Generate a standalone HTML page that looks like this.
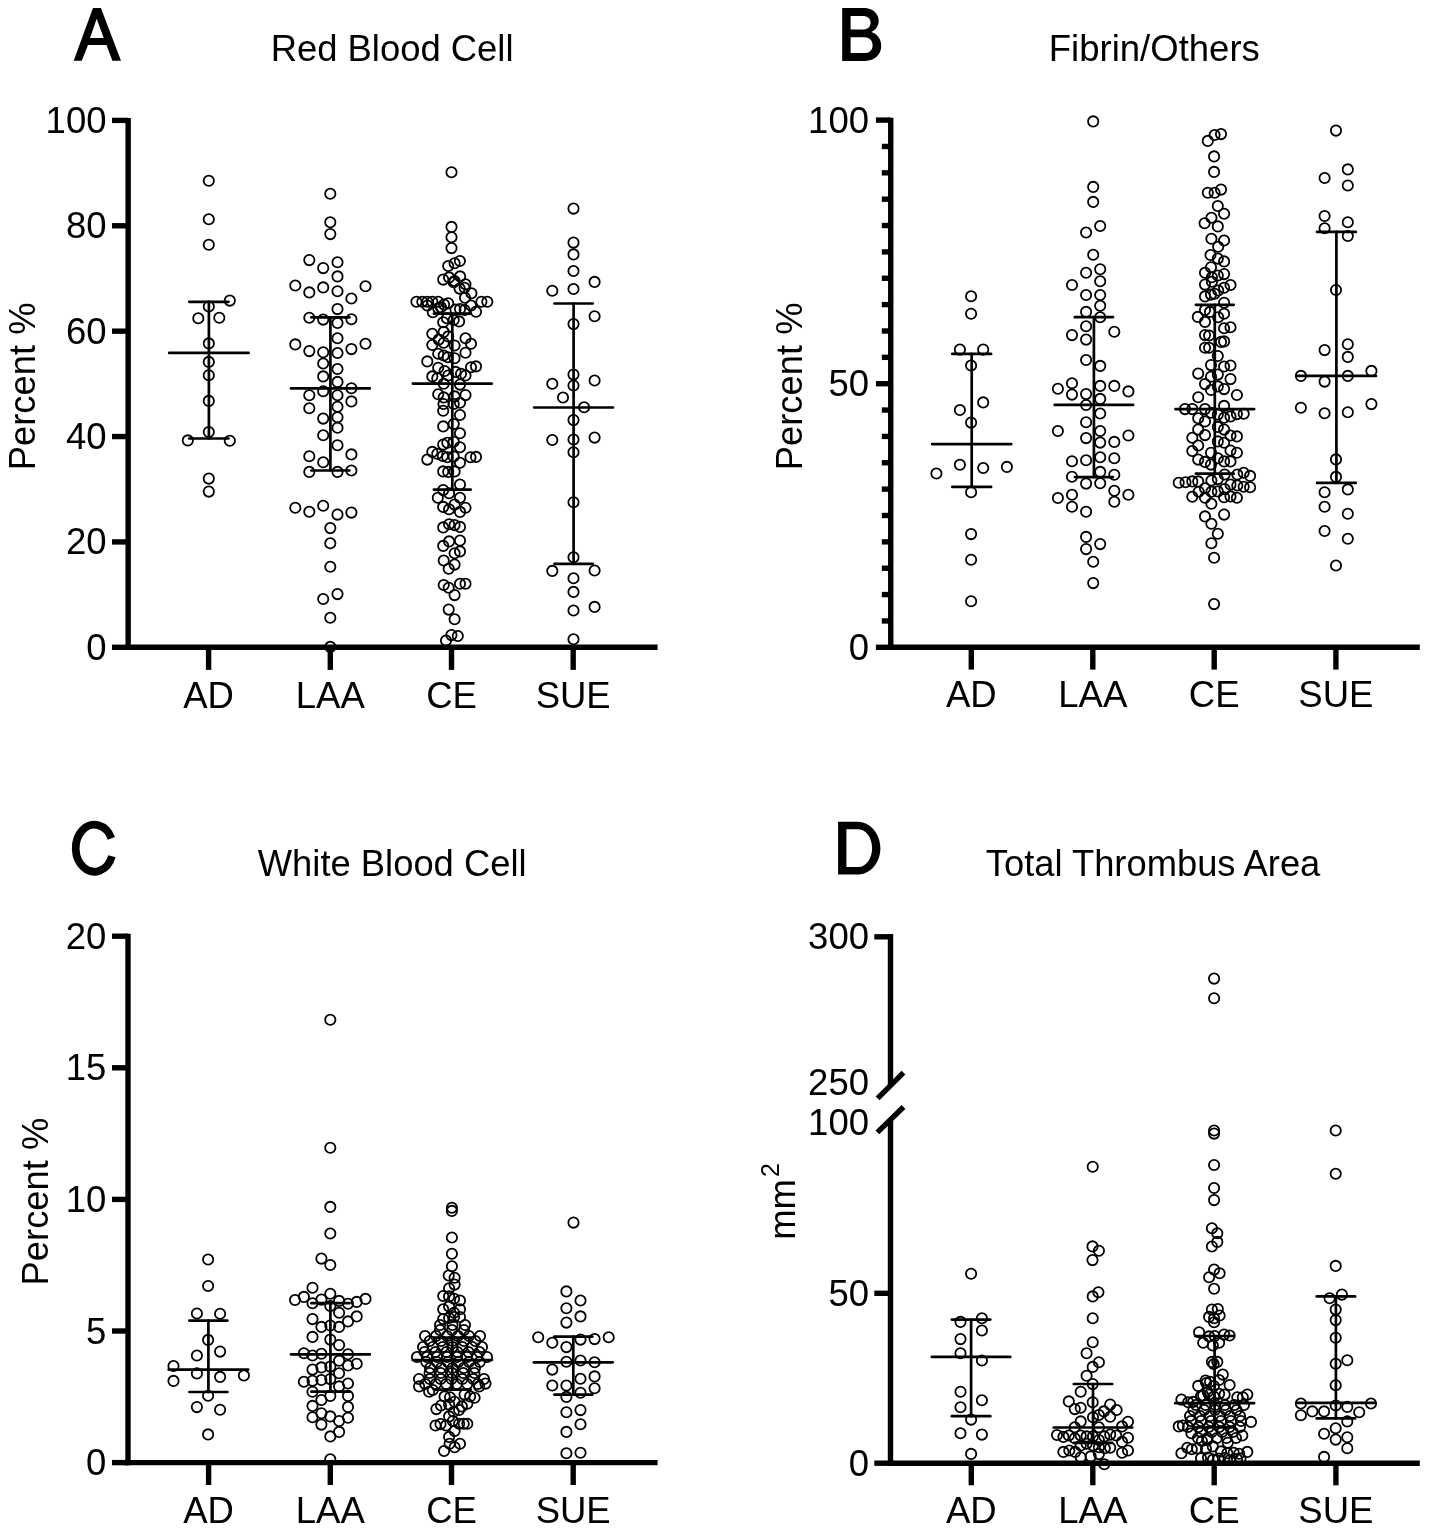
<!DOCTYPE html>
<html><head><meta charset="utf-8"><style>
html,body{margin:0;padding:0;background:#fff;}
svg{display:block;filter:grayscale(1);}
text{font-family:"Liberation Sans",sans-serif;fill:#000;}
line{stroke:#000;}
circle{fill:none;stroke:#000;stroke-width:1.8;}
</style></head><body>
<svg width="1429" height="1533" viewBox="0 0 1429 1533">
<rect width="1429" height="1533" fill="#fff"/>
<line x1="128.15" y1="118.00" x2="128.15" y2="650.00" stroke-width="5.4" stroke-linecap="butt"/>
<line x1="125.45" y1="647.30" x2="657.60" y2="647.30" stroke-width="5.4" stroke-linecap="butt"/>
<line x1="112.00" y1="120.40" x2="128.15" y2="120.40" stroke-width="5.4" stroke-linecap="butt"/>
<text x="106.50" y="132.90" font-size="36.5" text-anchor="end" font-weight="normal" >100</text>
<line x1="112.00" y1="225.78" x2="128.15" y2="225.78" stroke-width="5.4" stroke-linecap="butt"/>
<text x="106.50" y="238.28" font-size="36.5" text-anchor="end" font-weight="normal" >80</text>
<line x1="112.00" y1="331.16" x2="128.15" y2="331.16" stroke-width="5.4" stroke-linecap="butt"/>
<text x="106.50" y="343.66" font-size="36.5" text-anchor="end" font-weight="normal" >60</text>
<line x1="112.00" y1="436.54" x2="128.15" y2="436.54" stroke-width="5.4" stroke-linecap="butt"/>
<text x="106.50" y="449.04" font-size="36.5" text-anchor="end" font-weight="normal" >40</text>
<line x1="112.00" y1="541.92" x2="128.15" y2="541.92" stroke-width="5.4" stroke-linecap="butt"/>
<text x="106.50" y="554.42" font-size="36.5" text-anchor="end" font-weight="normal" >20</text>
<line x1="112.00" y1="647.30" x2="128.15" y2="647.30" stroke-width="5.4" stroke-linecap="butt"/>
<text x="106.50" y="659.80" font-size="36.5" text-anchor="end" font-weight="normal" >0</text>
<line x1="208.60" y1="647.30" x2="208.60" y2="669.90" stroke-width="5.4" stroke-linecap="butt"/>
<text x="208.60" y="707.50" font-size="36.5" text-anchor="middle" font-weight="normal" >AD</text>
<line x1="330.30" y1="647.30" x2="330.30" y2="669.90" stroke-width="5.4" stroke-linecap="butt"/>
<text x="330.30" y="707.50" font-size="36.5" text-anchor="middle" font-weight="normal" >LAA</text>
<line x1="451.50" y1="647.30" x2="451.50" y2="669.90" stroke-width="5.4" stroke-linecap="butt"/>
<text x="451.50" y="707.50" font-size="36.5" text-anchor="middle" font-weight="normal" >CE</text>
<line x1="573.20" y1="647.30" x2="573.20" y2="669.90" stroke-width="5.4" stroke-linecap="butt"/>
<text x="573.20" y="707.50" font-size="36.5" text-anchor="middle" font-weight="normal" >SUE</text>
<text x="270.70" y="60.60" font-size="36.41" text-anchor="start" font-weight="normal" >Red Blood Cell</text>
<path fill-rule="evenodd" d="M73.7,60.75 L93.0,8.1 L100.9,8.1 L121.0,60.75 L112.4,60.75 L106.5,45.1 L88.0,45.1 L81.8,60.75 Z M96.7,18.8 L90.0,38.1 L103.7,38.1 Z"/>
<text transform="translate(35.3,470.3) rotate(-90)" font-size="36.4">Percent %</text>
<line x1="208.90" y1="301.80" x2="208.90" y2="438.50" stroke-width="2.7" stroke-linecap="round"/>
<line x1="189.30" y1="301.80" x2="228.50" y2="301.80" stroke-width="2.7" stroke-linecap="round"/>
<line x1="189.30" y1="438.50" x2="228.50" y2="438.50" stroke-width="2.7" stroke-linecap="round"/>
<line x1="169.20" y1="352.90" x2="248.60" y2="352.90" stroke-width="2.7" stroke-linecap="round"/>
<line x1="330.40" y1="317.30" x2="330.40" y2="470.50" stroke-width="2.7" stroke-linecap="round"/>
<line x1="311.40" y1="317.30" x2="349.40" y2="317.30" stroke-width="2.7" stroke-linecap="round"/>
<line x1="311.40" y1="470.50" x2="349.40" y2="470.50" stroke-width="2.7" stroke-linecap="round"/>
<line x1="291.00" y1="388.40" x2="369.80" y2="388.40" stroke-width="2.7" stroke-linecap="round"/>
<line x1="452.30" y1="313.70" x2="452.30" y2="489.60" stroke-width="2.7" stroke-linecap="round"/>
<line x1="433.90" y1="313.70" x2="470.70" y2="313.70" stroke-width="2.7" stroke-linecap="round"/>
<line x1="433.90" y1="489.60" x2="470.70" y2="489.60" stroke-width="2.7" stroke-linecap="round"/>
<line x1="412.90" y1="383.70" x2="491.70" y2="383.70" stroke-width="2.7" stroke-linecap="round"/>
<line x1="573.60" y1="303.50" x2="573.60" y2="563.80" stroke-width="2.7" stroke-linecap="round"/>
<line x1="554.50" y1="303.50" x2="592.70" y2="303.50" stroke-width="2.7" stroke-linecap="round"/>
<line x1="554.50" y1="563.80" x2="592.70" y2="563.80" stroke-width="2.7" stroke-linecap="round"/>
<line x1="534.20" y1="407.50" x2="613.00" y2="407.50" stroke-width="2.7" stroke-linecap="round"/>
<circle cx="208.8" cy="180.8" r="5.15"/>
<circle cx="208.8" cy="219.2" r="5.15"/>
<circle cx="208.8" cy="244.8" r="5.15"/>
<circle cx="229.8" cy="300.6" r="5.15"/>
<circle cx="208.8" cy="306.5" r="5.15"/>
<circle cx="198.3" cy="318.2" r="5.15"/>
<circle cx="219.3" cy="317.8" r="5.15"/>
<circle cx="208.8" cy="343.4" r="5.15"/>
<circle cx="208.8" cy="361.9" r="5.15"/>
<circle cx="208.8" cy="375.3" r="5.15"/>
<circle cx="208.8" cy="400.9" r="5.15"/>
<circle cx="208.8" cy="432.0" r="5.15"/>
<circle cx="187.8" cy="440.4" r="5.15"/>
<circle cx="229.8" cy="440.8" r="5.15"/>
<circle cx="208.8" cy="478.6" r="5.15"/>
<circle cx="208.8" cy="491.6" r="5.15"/>
<circle cx="330.3" cy="193.8" r="5.15"/>
<circle cx="330.3" cy="222.3" r="5.15"/>
<circle cx="330.3" cy="234.1" r="5.15"/>
<circle cx="309.3" cy="260.1" r="5.15"/>
<circle cx="337.5" cy="262.2" r="5.15"/>
<circle cx="323.2" cy="268.1" r="5.15"/>
<circle cx="337.5" cy="276.4" r="5.15"/>
<circle cx="295.3" cy="285.5" r="5.15"/>
<circle cx="323.2" cy="287.4" r="5.15"/>
<circle cx="365.5" cy="286.3" r="5.15"/>
<circle cx="309.3" cy="292.4" r="5.15"/>
<circle cx="337.5" cy="291.3" r="5.15"/>
<circle cx="351.4" cy="298.5" r="5.15"/>
<circle cx="337.5" cy="309.1" r="5.15"/>
<circle cx="309.3" cy="317.7" r="5.15"/>
<circle cx="323.2" cy="319.6" r="5.15"/>
<circle cx="351.4" cy="319.3" r="5.15"/>
<circle cx="337.5" cy="322.9" r="5.15"/>
<circle cx="337.5" cy="338.2" r="5.15"/>
<circle cx="295.3" cy="344.4" r="5.15"/>
<circle cx="365.5" cy="343.7" r="5.15"/>
<circle cx="309.3" cy="351.1" r="5.15"/>
<circle cx="323.2" cy="352.3" r="5.15"/>
<circle cx="337.5" cy="353.0" r="5.15"/>
<circle cx="351.4" cy="349.1" r="5.15"/>
<circle cx="323.2" cy="363.5" r="5.15"/>
<circle cx="337.5" cy="369.0" r="5.15"/>
<circle cx="323.2" cy="376.4" r="5.15"/>
<circle cx="337.5" cy="381.9" r="5.15"/>
<circle cx="351.4" cy="388.3" r="5.15"/>
<circle cx="323.2" cy="391.2" r="5.15"/>
<circle cx="309.3" cy="395.3" r="5.15"/>
<circle cx="337.5" cy="395.3" r="5.15"/>
<circle cx="351.4" cy="401.4" r="5.15"/>
<circle cx="309.3" cy="408.3" r="5.15"/>
<circle cx="337.5" cy="406.7" r="5.15"/>
<circle cx="323.2" cy="418.6" r="5.15"/>
<circle cx="337.5" cy="417.3" r="5.15"/>
<circle cx="337.5" cy="427.7" r="5.15"/>
<circle cx="323.2" cy="435.3" r="5.15"/>
<circle cx="337.5" cy="445.3" r="5.15"/>
<circle cx="309.3" cy="456.2" r="5.15"/>
<circle cx="351.4" cy="454.4" r="5.15"/>
<circle cx="323.2" cy="462.3" r="5.15"/>
<circle cx="309.3" cy="471.9" r="5.15"/>
<circle cx="337.5" cy="471.9" r="5.15"/>
<circle cx="351.4" cy="470.5" r="5.15"/>
<circle cx="295.3" cy="507.8" r="5.15"/>
<circle cx="309.3" cy="511.7" r="5.15"/>
<circle cx="323.2" cy="505.8" r="5.15"/>
<circle cx="337.5" cy="514.6" r="5.15"/>
<circle cx="351.4" cy="512.6" r="5.15"/>
<circle cx="330.3" cy="528.1" r="5.15"/>
<circle cx="330.3" cy="543.2" r="5.15"/>
<circle cx="330.3" cy="566.8" r="5.15"/>
<circle cx="337.5" cy="594.1" r="5.15"/>
<circle cx="323.2" cy="599.0" r="5.15"/>
<circle cx="330.3" cy="617.8" r="5.15"/>
<circle cx="330.3" cy="646.9" r="5.15"/>
<circle cx="451.5" cy="172.3" r="5.15"/>
<circle cx="451.5" cy="226.9" r="5.15"/>
<circle cx="451.5" cy="237.3" r="5.15"/>
<circle cx="451.5" cy="248.1" r="5.15"/>
<circle cx="459.9" cy="261.0" r="5.15"/>
<circle cx="454.6" cy="263.3" r="5.15"/>
<circle cx="448.2" cy="266.0" r="5.15"/>
<circle cx="460.1" cy="276.4" r="5.15"/>
<circle cx="449.1" cy="277.4" r="5.15"/>
<circle cx="443.2" cy="279.6" r="5.15"/>
<circle cx="454.6" cy="281.0" r="5.15"/>
<circle cx="465.5" cy="284.2" r="5.15"/>
<circle cx="453.7" cy="282.3" r="5.15"/>
<circle cx="459.6" cy="288.6" r="5.15"/>
<circle cx="464.6" cy="287.7" r="5.15"/>
<circle cx="471.4" cy="293.2" r="5.15"/>
<circle cx="465.0" cy="297.7" r="5.15"/>
<circle cx="416.4" cy="301.8" r="5.15"/>
<circle cx="422.3" cy="301.8" r="5.15"/>
<circle cx="427.3" cy="301.8" r="5.15"/>
<circle cx="432.3" cy="301.8" r="5.15"/>
<circle cx="438.2" cy="301.8" r="5.15"/>
<circle cx="481.4" cy="301.8" r="5.15"/>
<circle cx="487.3" cy="301.8" r="5.15"/>
<circle cx="471.0" cy="305.5" r="5.15"/>
<circle cx="427.3" cy="305.5" r="5.15"/>
<circle cx="444.1" cy="304.6" r="5.15"/>
<circle cx="448.2" cy="303.2" r="5.15"/>
<circle cx="455.5" cy="309.6" r="5.15"/>
<circle cx="460.0" cy="309.1" r="5.15"/>
<circle cx="464.6" cy="310.0" r="5.15"/>
<circle cx="476.0" cy="311.8" r="5.15"/>
<circle cx="432.8" cy="312.3" r="5.15"/>
<circle cx="438.2" cy="308.2" r="5.15"/>
<circle cx="441.0" cy="307.3" r="5.15"/>
<circle cx="443.2" cy="322.3" r="5.15"/>
<circle cx="453.7" cy="320.0" r="5.15"/>
<circle cx="459.1" cy="321.4" r="5.15"/>
<circle cx="446.9" cy="318.2" r="5.15"/>
<circle cx="432.3" cy="333.7" r="5.15"/>
<circle cx="443.7" cy="331.9" r="5.15"/>
<circle cx="438.7" cy="339.6" r="5.15"/>
<circle cx="443.7" cy="342.8" r="5.15"/>
<circle cx="432.3" cy="345.0" r="5.15"/>
<circle cx="448.2" cy="336.4" r="5.15"/>
<circle cx="465.5" cy="338.2" r="5.15"/>
<circle cx="471.0" cy="343.7" r="5.15"/>
<circle cx="454.6" cy="345.5" r="5.15"/>
<circle cx="465.5" cy="352.8" r="5.15"/>
<circle cx="438.2" cy="353.7" r="5.15"/>
<circle cx="443.7" cy="355.5" r="5.15"/>
<circle cx="447.8" cy="357.3" r="5.15"/>
<circle cx="454.6" cy="358.2" r="5.15"/>
<circle cx="427.3" cy="361.4" r="5.15"/>
<circle cx="438.2" cy="367.8" r="5.15"/>
<circle cx="444.6" cy="371.0" r="5.15"/>
<circle cx="455.5" cy="371.9" r="5.15"/>
<circle cx="461.0" cy="373.7" r="5.15"/>
<circle cx="465.5" cy="375.5" r="5.15"/>
<circle cx="471.0" cy="367.3" r="5.15"/>
<circle cx="476.0" cy="366.4" r="5.15"/>
<circle cx="432.3" cy="376.4" r="5.15"/>
<circle cx="437.3" cy="378.2" r="5.15"/>
<circle cx="448.2" cy="375.5" r="5.15"/>
<circle cx="443.7" cy="383.7" r="5.15"/>
<circle cx="460.0" cy="384.6" r="5.15"/>
<circle cx="438.2" cy="394.2" r="5.15"/>
<circle cx="443.7" cy="397.4" r="5.15"/>
<circle cx="454.6" cy="396.4" r="5.15"/>
<circle cx="465.5" cy="395.1" r="5.15"/>
<circle cx="460.0" cy="402.8" r="5.15"/>
<circle cx="443.5" cy="404.0" r="5.15"/>
<circle cx="453.7" cy="404.0" r="5.15"/>
<circle cx="443.2" cy="410.7" r="5.15"/>
<circle cx="460.0" cy="415.0" r="5.15"/>
<circle cx="453.7" cy="424.1" r="5.15"/>
<circle cx="443.2" cy="426.4" r="5.15"/>
<circle cx="460.0" cy="433.2" r="5.15"/>
<circle cx="443.2" cy="444.6" r="5.15"/>
<circle cx="447.3" cy="442.8" r="5.15"/>
<circle cx="453.7" cy="441.8" r="5.15"/>
<circle cx="460.0" cy="447.3" r="5.15"/>
<circle cx="432.3" cy="451.9" r="5.15"/>
<circle cx="437.3" cy="453.7" r="5.15"/>
<circle cx="442.8" cy="456.0" r="5.15"/>
<circle cx="447.3" cy="457.3" r="5.15"/>
<circle cx="453.7" cy="456.4" r="5.15"/>
<circle cx="427.3" cy="459.6" r="5.15"/>
<circle cx="460.0" cy="462.8" r="5.15"/>
<circle cx="470.5" cy="457.3" r="5.15"/>
<circle cx="476.0" cy="456.9" r="5.15"/>
<circle cx="443.2" cy="471.4" r="5.15"/>
<circle cx="448.2" cy="471.9" r="5.15"/>
<circle cx="454.6" cy="471.4" r="5.15"/>
<circle cx="460.0" cy="484.6" r="5.15"/>
<circle cx="443.2" cy="490.1" r="5.15"/>
<circle cx="449.1" cy="493.2" r="5.15"/>
<circle cx="437.8" cy="497.8" r="5.15"/>
<circle cx="460.0" cy="497.8" r="5.15"/>
<circle cx="443.2" cy="506.9" r="5.15"/>
<circle cx="449.1" cy="509.2" r="5.15"/>
<circle cx="454.6" cy="504.6" r="5.15"/>
<circle cx="460.0" cy="511.9" r="5.15"/>
<circle cx="465.5" cy="507.8" r="5.15"/>
<circle cx="449.1" cy="524.2" r="5.15"/>
<circle cx="454.6" cy="525.1" r="5.15"/>
<circle cx="460.0" cy="526.9" r="5.15"/>
<circle cx="443.2" cy="527.4" r="5.15"/>
<circle cx="443.2" cy="545.9" r="5.15"/>
<circle cx="449.1" cy="541.4" r="5.15"/>
<circle cx="460.0" cy="540.5" r="5.15"/>
<circle cx="454.6" cy="553.2" r="5.15"/>
<circle cx="460.0" cy="551.4" r="5.15"/>
<circle cx="443.7" cy="560.5" r="5.15"/>
<circle cx="454.6" cy="564.6" r="5.15"/>
<circle cx="448.7" cy="568.7" r="5.15"/>
<circle cx="443.7" cy="585.0" r="5.15"/>
<circle cx="448.7" cy="587.8" r="5.15"/>
<circle cx="460.0" cy="583.7" r="5.15"/>
<circle cx="465.5" cy="583.7" r="5.15"/>
<circle cx="454.6" cy="595.1" r="5.15"/>
<circle cx="448.7" cy="609.6" r="5.15"/>
<circle cx="454.6" cy="619.2" r="5.15"/>
<circle cx="451.4" cy="635.1" r="5.15"/>
<circle cx="457.8" cy="636.0" r="5.15"/>
<circle cx="446.0" cy="640.5" r="5.15"/>
<circle cx="573.5" cy="208.6" r="5.15"/>
<circle cx="573.5" cy="242.6" r="5.15"/>
<circle cx="573.5" cy="254.4" r="5.15"/>
<circle cx="573.5" cy="271.0" r="5.15"/>
<circle cx="594.6" cy="281.9" r="5.15"/>
<circle cx="552.3" cy="290.8" r="5.15"/>
<circle cx="573.5" cy="289.0" r="5.15"/>
<circle cx="594.6" cy="316.2" r="5.15"/>
<circle cx="573.5" cy="324.1" r="5.15"/>
<circle cx="573.5" cy="374.6" r="5.15"/>
<circle cx="594.6" cy="380.5" r="5.15"/>
<circle cx="552.3" cy="383.7" r="5.15"/>
<circle cx="573.5" cy="385.5" r="5.15"/>
<circle cx="563.0" cy="397.5" r="5.15"/>
<circle cx="584.1" cy="407.3" r="5.15"/>
<circle cx="573.5" cy="420.1" r="5.15"/>
<circle cx="552.3" cy="440.0" r="5.15"/>
<circle cx="573.5" cy="439.5" r="5.15"/>
<circle cx="594.6" cy="437.6" r="5.15"/>
<circle cx="573.5" cy="452.3" r="5.15"/>
<circle cx="573.5" cy="502.3" r="5.15"/>
<circle cx="573.5" cy="557.3" r="5.15"/>
<circle cx="552.3" cy="570.9" r="5.15"/>
<circle cx="594.6" cy="570.5" r="5.15"/>
<circle cx="573.5" cy="578.2" r="5.15"/>
<circle cx="573.5" cy="591.9" r="5.15"/>
<circle cx="594.6" cy="606.9" r="5.15"/>
<circle cx="573.5" cy="610.5" r="5.15"/>
<circle cx="573.5" cy="639.2" r="5.15"/>
<line x1="890.75" y1="117.70" x2="890.75" y2="650.00" stroke-width="5.4" stroke-linecap="butt"/>
<line x1="888.05" y1="647.30" x2="1419.80" y2="647.30" stroke-width="5.4" stroke-linecap="butt"/>
<line x1="875.90" y1="120.10" x2="890.75" y2="120.10" stroke-width="5.4" stroke-linecap="butt"/>
<text x="869.00" y="132.60" font-size="36.5" text-anchor="end" font-weight="normal" >100</text>
<line x1="875.90" y1="383.70" x2="890.75" y2="383.70" stroke-width="5.4" stroke-linecap="butt"/>
<text x="869.00" y="396.20" font-size="36.5" text-anchor="end" font-weight="normal" >50</text>
<line x1="875.90" y1="647.30" x2="890.75" y2="647.30" stroke-width="5.4" stroke-linecap="butt"/>
<text x="869.00" y="659.80" font-size="36.5" text-anchor="end" font-weight="normal" >0</text>
<line x1="971.30" y1="647.30" x2="971.30" y2="669.60" stroke-width="5.4" stroke-linecap="butt"/>
<text x="971.30" y="707.30" font-size="36.5" text-anchor="middle" font-weight="normal" >AD</text>
<line x1="1092.80" y1="647.30" x2="1092.80" y2="669.60" stroke-width="5.4" stroke-linecap="butt"/>
<text x="1092.80" y="707.30" font-size="36.5" text-anchor="middle" font-weight="normal" >LAA</text>
<line x1="1214.20" y1="647.30" x2="1214.20" y2="669.60" stroke-width="5.4" stroke-linecap="butt"/>
<text x="1214.20" y="707.30" font-size="36.5" text-anchor="middle" font-weight="normal" >CE</text>
<line x1="1335.90" y1="647.30" x2="1335.90" y2="669.60" stroke-width="5.4" stroke-linecap="butt"/>
<text x="1335.90" y="707.30" font-size="36.5" text-anchor="middle" font-weight="normal" >SUE</text>
<text x="1048.80" y="61.10" font-size="36.53" text-anchor="start" font-weight="normal" >Fibrin/Others</text>
<path fill-rule="evenodd" d="M842.2,8.1 H864.3 C872.2,8.1 878.7,13.5 878.7,20.8 C878.7,26 875.7,30 871.5,32.0 C877.5,34 881.2,39 881.2,46 C881.2,54.8 874.5,60.9 865,60.9 H842.2 Z M850.6,15.9 H862.7 C867.5,15.9 870.6,18.6 870.6,22.65 C870.6,26.7 867.5,29.4 862.7,29.4 H850.6 Z M850.6,37.2 H864 C869.3,37.2 872.6,40.3 872.6,45.15 C872.6,50 869.3,53.1 864,53.1 H850.6 Z"/>
<text transform="translate(801.6,470.3) rotate(-90)" font-size="36.4">Percent %</text>
<line x1="971.70" y1="353.90" x2="971.70" y2="486.90" stroke-width="2.7" stroke-linecap="round"/>
<line x1="952.30" y1="353.90" x2="991.10" y2="353.90" stroke-width="2.7" stroke-linecap="round"/>
<line x1="952.30" y1="486.90" x2="991.10" y2="486.90" stroke-width="2.7" stroke-linecap="round"/>
<line x1="932.10" y1="444.10" x2="1011.30" y2="444.10" stroke-width="2.7" stroke-linecap="round"/>
<line x1="1093.90" y1="317.20" x2="1093.90" y2="477.10" stroke-width="2.7" stroke-linecap="round"/>
<line x1="1074.90" y1="317.20" x2="1112.90" y2="317.20" stroke-width="2.7" stroke-linecap="round"/>
<line x1="1074.90" y1="477.10" x2="1112.90" y2="477.10" stroke-width="2.7" stroke-linecap="round"/>
<line x1="1054.70" y1="404.90" x2="1133.10" y2="404.90" stroke-width="2.7" stroke-linecap="round"/>
<line x1="1214.80" y1="304.80" x2="1214.80" y2="473.70" stroke-width="2.7" stroke-linecap="round"/>
<line x1="1195.90" y1="304.80" x2="1233.70" y2="304.80" stroke-width="2.7" stroke-linecap="round"/>
<line x1="1195.90" y1="473.70" x2="1233.70" y2="473.70" stroke-width="2.7" stroke-linecap="round"/>
<line x1="1175.40" y1="409.10" x2="1254.20" y2="409.10" stroke-width="2.7" stroke-linecap="round"/>
<line x1="1336.40" y1="231.90" x2="1336.40" y2="482.90" stroke-width="2.7" stroke-linecap="round"/>
<line x1="1317.00" y1="231.90" x2="1355.80" y2="231.90" stroke-width="2.7" stroke-linecap="round"/>
<line x1="1317.00" y1="482.90" x2="1355.80" y2="482.90" stroke-width="2.7" stroke-linecap="round"/>
<line x1="1296.80" y1="375.90" x2="1376.00" y2="375.90" stroke-width="2.7" stroke-linecap="round"/>
<circle cx="971.1" cy="296.2" r="5.15"/>
<circle cx="971.1" cy="313.8" r="5.15"/>
<circle cx="959.9" cy="349.6" r="5.15"/>
<circle cx="983.2" cy="349.6" r="5.15"/>
<circle cx="971.1" cy="365.5" r="5.15"/>
<circle cx="983.2" cy="402.4" r="5.15"/>
<circle cx="959.9" cy="410.0" r="5.15"/>
<circle cx="971.1" cy="422.6" r="5.15"/>
<circle cx="959.9" cy="464.8" r="5.15"/>
<circle cx="936.4" cy="473.5" r="5.15"/>
<circle cx="983.2" cy="468.0" r="5.15"/>
<circle cx="1006.9" cy="466.9" r="5.15"/>
<circle cx="971.1" cy="492.3" r="5.15"/>
<circle cx="971.1" cy="534.1" r="5.15"/>
<circle cx="971.1" cy="559.8" r="5.15"/>
<circle cx="971.1" cy="601.2" r="5.15"/>
<circle cx="1093.2" cy="121.4" r="5.15"/>
<circle cx="1093.2" cy="186.9" r="5.15"/>
<circle cx="1093.2" cy="201.9" r="5.15"/>
<circle cx="1100.2" cy="226.0" r="5.15"/>
<circle cx="1086.1" cy="232.5" r="5.15"/>
<circle cx="1093.2" cy="254.7" r="5.15"/>
<circle cx="1100.2" cy="269.3" r="5.15"/>
<circle cx="1086.1" cy="272.8" r="5.15"/>
<circle cx="1100.2" cy="281.2" r="5.15"/>
<circle cx="1072.0" cy="285.0" r="5.15"/>
<circle cx="1086.1" cy="295.0" r="5.15"/>
<circle cx="1100.2" cy="295.0" r="5.15"/>
<circle cx="1100.2" cy="305.7" r="5.15"/>
<circle cx="1086.1" cy="311.9" r="5.15"/>
<circle cx="1100.2" cy="317.3" r="5.15"/>
<circle cx="1086.1" cy="326.3" r="5.15"/>
<circle cx="1114.3" cy="331.7" r="5.15"/>
<circle cx="1072.0" cy="335.1" r="5.15"/>
<circle cx="1086.1" cy="339.6" r="5.15"/>
<circle cx="1086.1" cy="360.0" r="5.15"/>
<circle cx="1100.2" cy="365.9" r="5.15"/>
<circle cx="1072.0" cy="383.2" r="5.15"/>
<circle cx="1057.9" cy="388.7" r="5.15"/>
<circle cx="1100.2" cy="385.9" r="5.15"/>
<circle cx="1114.3" cy="385.9" r="5.15"/>
<circle cx="1128.4" cy="391.4" r="5.15"/>
<circle cx="1072.0" cy="394.6" r="5.15"/>
<circle cx="1086.1" cy="394.1" r="5.15"/>
<circle cx="1100.2" cy="398.9" r="5.15"/>
<circle cx="1086.1" cy="405.0" r="5.15"/>
<circle cx="1100.2" cy="413.5" r="5.15"/>
<circle cx="1086.1" cy="422.3" r="5.15"/>
<circle cx="1057.9" cy="431.0" r="5.15"/>
<circle cx="1100.2" cy="431.0" r="5.15"/>
<circle cx="1128.4" cy="435.5" r="5.15"/>
<circle cx="1086.1" cy="438.1" r="5.15"/>
<circle cx="1100.2" cy="442.6" r="5.15"/>
<circle cx="1114.3" cy="441.9" r="5.15"/>
<circle cx="1100.2" cy="457.2" r="5.15"/>
<circle cx="1072.0" cy="461.2" r="5.15"/>
<circle cx="1086.1" cy="460.3" r="5.15"/>
<circle cx="1114.3" cy="458.3" r="5.15"/>
<circle cx="1100.2" cy="471.9" r="5.15"/>
<circle cx="1072.0" cy="476.8" r="5.15"/>
<circle cx="1114.3" cy="474.8" r="5.15"/>
<circle cx="1086.1" cy="483.6" r="5.15"/>
<circle cx="1100.2" cy="483.2" r="5.15"/>
<circle cx="1114.3" cy="490.7" r="5.15"/>
<circle cx="1128.4" cy="494.7" r="5.15"/>
<circle cx="1057.9" cy="498.0" r="5.15"/>
<circle cx="1072.0" cy="494.7" r="5.15"/>
<circle cx="1114.3" cy="501.7" r="5.15"/>
<circle cx="1072.0" cy="506.8" r="5.15"/>
<circle cx="1086.1" cy="511.7" r="5.15"/>
<circle cx="1086.1" cy="536.9" r="5.15"/>
<circle cx="1100.2" cy="544.1" r="5.15"/>
<circle cx="1086.1" cy="549.1" r="5.15"/>
<circle cx="1093.2" cy="561.7" r="5.15"/>
<circle cx="1093.2" cy="583.1" r="5.15"/>
<circle cx="1221.0" cy="134.1" r="5.15"/>
<circle cx="1214.6" cy="135.0" r="5.15"/>
<circle cx="1207.8" cy="140.9" r="5.15"/>
<circle cx="1214.1" cy="156.4" r="5.15"/>
<circle cx="1214.1" cy="171.9" r="5.15"/>
<circle cx="1221.0" cy="189.6" r="5.15"/>
<circle cx="1214.6" cy="192.8" r="5.15"/>
<circle cx="1207.8" cy="192.8" r="5.15"/>
<circle cx="1217.8" cy="206.0" r="5.15"/>
<circle cx="1224.1" cy="213.7" r="5.15"/>
<circle cx="1211.4" cy="217.8" r="5.15"/>
<circle cx="1204.6" cy="223.3" r="5.15"/>
<circle cx="1217.8" cy="226.4" r="5.15"/>
<circle cx="1211.4" cy="238.7" r="5.15"/>
<circle cx="1224.1" cy="240.5" r="5.15"/>
<circle cx="1218.2" cy="246.8" r="5.15"/>
<circle cx="1210.5" cy="255.0" r="5.15"/>
<circle cx="1217.8" cy="258.6" r="5.15"/>
<circle cx="1224.1" cy="261.4" r="5.15"/>
<circle cx="1211.0" cy="267.3" r="5.15"/>
<circle cx="1205.0" cy="272.8" r="5.15"/>
<circle cx="1217.8" cy="275.5" r="5.15"/>
<circle cx="1224.1" cy="274.1" r="5.15"/>
<circle cx="1211.9" cy="277.3" r="5.15"/>
<circle cx="1205.0" cy="284.6" r="5.15"/>
<circle cx="1211.9" cy="281.8" r="5.15"/>
<circle cx="1230.5" cy="285.0" r="5.15"/>
<circle cx="1224.1" cy="287.8" r="5.15"/>
<circle cx="1218.2" cy="290.5" r="5.15"/>
<circle cx="1205.0" cy="296.4" r="5.15"/>
<circle cx="1211.0" cy="294.6" r="5.15"/>
<circle cx="1214.6" cy="293.7" r="5.15"/>
<circle cx="1224.1" cy="302.8" r="5.15"/>
<circle cx="1205.0" cy="310.0" r="5.15"/>
<circle cx="1210.0" cy="311.9" r="5.15"/>
<circle cx="1224.1" cy="313.7" r="5.15"/>
<circle cx="1197.8" cy="316.9" r="5.15"/>
<circle cx="1205.0" cy="321.9" r="5.15"/>
<circle cx="1218.2" cy="317.3" r="5.15"/>
<circle cx="1224.1" cy="328.2" r="5.15"/>
<circle cx="1230.5" cy="327.3" r="5.15"/>
<circle cx="1205.0" cy="335.1" r="5.15"/>
<circle cx="1209.1" cy="335.5" r="5.15"/>
<circle cx="1221.0" cy="341.9" r="5.15"/>
<circle cx="1224.1" cy="341.4" r="5.15"/>
<circle cx="1205.0" cy="347.8" r="5.15"/>
<circle cx="1209.1" cy="347.8" r="5.15"/>
<circle cx="1217.8" cy="356.0" r="5.15"/>
<circle cx="1211.0" cy="365.1" r="5.15"/>
<circle cx="1224.1" cy="366.5" r="5.15"/>
<circle cx="1230.5" cy="365.5" r="5.15"/>
<circle cx="1198.2" cy="373.6" r="5.15"/>
<circle cx="1211.0" cy="376.8" r="5.15"/>
<circle cx="1217.8" cy="374.6" r="5.15"/>
<circle cx="1230.5" cy="379.1" r="5.15"/>
<circle cx="1205.0" cy="384.1" r="5.15"/>
<circle cx="1211.0" cy="390.0" r="5.15"/>
<circle cx="1217.8" cy="386.4" r="5.15"/>
<circle cx="1224.1" cy="389.1" r="5.15"/>
<circle cx="1236.9" cy="395.0" r="5.15"/>
<circle cx="1198.2" cy="397.3" r="5.15"/>
<circle cx="1224.1" cy="405.9" r="5.15"/>
<circle cx="1185.0" cy="409.1" r="5.15"/>
<circle cx="1192.3" cy="409.1" r="5.15"/>
<circle cx="1205.0" cy="409.1" r="5.15"/>
<circle cx="1211.0" cy="412.8" r="5.15"/>
<circle cx="1217.8" cy="414.6" r="5.15"/>
<circle cx="1224.1" cy="417.8" r="5.15"/>
<circle cx="1230.5" cy="416.4" r="5.15"/>
<circle cx="1236.9" cy="414.1" r="5.15"/>
<circle cx="1243.7" cy="413.7" r="5.15"/>
<circle cx="1198.2" cy="418.2" r="5.15"/>
<circle cx="1205.0" cy="421.4" r="5.15"/>
<circle cx="1217.8" cy="426.9" r="5.15"/>
<circle cx="1224.1" cy="429.6" r="5.15"/>
<circle cx="1198.2" cy="429.6" r="5.15"/>
<circle cx="1205.0" cy="435.1" r="5.15"/>
<circle cx="1192.3" cy="437.8" r="5.15"/>
<circle cx="1230.5" cy="435.5" r="5.15"/>
<circle cx="1236.9" cy="436.4" r="5.15"/>
<circle cx="1217.8" cy="441.4" r="5.15"/>
<circle cx="1224.1" cy="442.8" r="5.15"/>
<circle cx="1198.2" cy="445.5" r="5.15"/>
<circle cx="1192.3" cy="451.0" r="5.15"/>
<circle cx="1211.0" cy="452.8" r="5.15"/>
<circle cx="1230.5" cy="450.5" r="5.15"/>
<circle cx="1236.9" cy="452.8" r="5.15"/>
<circle cx="1198.2" cy="459.6" r="5.15"/>
<circle cx="1205.0" cy="461.9" r="5.15"/>
<circle cx="1211.0" cy="464.6" r="5.15"/>
<circle cx="1217.8" cy="458.3" r="5.15"/>
<circle cx="1224.1" cy="461.4" r="5.15"/>
<circle cx="1230.5" cy="461.4" r="5.15"/>
<circle cx="1224.6" cy="474.5" r="5.15"/>
<circle cx="1237.3" cy="474.5" r="5.15"/>
<circle cx="1243.7" cy="472.7" r="5.15"/>
<circle cx="1250.1" cy="475.9" r="5.15"/>
<circle cx="1178.7" cy="482.7" r="5.15"/>
<circle cx="1185.5" cy="482.3" r="5.15"/>
<circle cx="1192.3" cy="481.4" r="5.15"/>
<circle cx="1198.2" cy="481.4" r="5.15"/>
<circle cx="1211.4" cy="480.5" r="5.15"/>
<circle cx="1217.8" cy="479.1" r="5.15"/>
<circle cx="1230.5" cy="484.6" r="5.15"/>
<circle cx="1237.3" cy="485.5" r="5.15"/>
<circle cx="1243.7" cy="486.8" r="5.15"/>
<circle cx="1250.1" cy="487.3" r="5.15"/>
<circle cx="1198.7" cy="491.8" r="5.15"/>
<circle cx="1205.0" cy="488.2" r="5.15"/>
<circle cx="1211.4" cy="491.8" r="5.15"/>
<circle cx="1217.8" cy="491.4" r="5.15"/>
<circle cx="1224.6" cy="489.1" r="5.15"/>
<circle cx="1192.3" cy="496.8" r="5.15"/>
<circle cx="1205.0" cy="497.7" r="5.15"/>
<circle cx="1224.1" cy="497.3" r="5.15"/>
<circle cx="1230.5" cy="496.4" r="5.15"/>
<circle cx="1236.9" cy="497.7" r="5.15"/>
<circle cx="1211.4" cy="503.7" r="5.15"/>
<circle cx="1205.0" cy="516.4" r="5.15"/>
<circle cx="1224.1" cy="514.6" r="5.15"/>
<circle cx="1211.4" cy="523.7" r="5.15"/>
<circle cx="1217.8" cy="533.7" r="5.15"/>
<circle cx="1211.4" cy="543.2" r="5.15"/>
<circle cx="1214.1" cy="557.8" r="5.15"/>
<circle cx="1214.1" cy="604.1" r="5.15"/>
<circle cx="1336.0" cy="130.6" r="5.15"/>
<circle cx="1347.8" cy="169.4" r="5.15"/>
<circle cx="1324.6" cy="178.0" r="5.15"/>
<circle cx="1347.8" cy="185.5" r="5.15"/>
<circle cx="1324.6" cy="216.0" r="5.15"/>
<circle cx="1347.8" cy="222.2" r="5.15"/>
<circle cx="1324.6" cy="228.3" r="5.15"/>
<circle cx="1347.8" cy="236.0" r="5.15"/>
<circle cx="1336.0" cy="290.0" r="5.15"/>
<circle cx="1347.8" cy="344.2" r="5.15"/>
<circle cx="1324.6" cy="350.1" r="5.15"/>
<circle cx="1347.8" cy="356.9" r="5.15"/>
<circle cx="1371.4" cy="370.9" r="5.15"/>
<circle cx="1300.9" cy="375.9" r="5.15"/>
<circle cx="1347.8" cy="375.9" r="5.15"/>
<circle cx="1324.6" cy="381.6" r="5.15"/>
<circle cx="1300.9" cy="407.8" r="5.15"/>
<circle cx="1324.6" cy="413.2" r="5.15"/>
<circle cx="1347.8" cy="412.3" r="5.15"/>
<circle cx="1371.4" cy="404.1" r="5.15"/>
<circle cx="1336.0" cy="459.4" r="5.15"/>
<circle cx="1336.0" cy="476.9" r="5.15"/>
<circle cx="1324.6" cy="492.3" r="5.15"/>
<circle cx="1347.8" cy="489.4" r="5.15"/>
<circle cx="1324.6" cy="506.7" r="5.15"/>
<circle cx="1347.8" cy="513.7" r="5.15"/>
<circle cx="1324.6" cy="531.0" r="5.15"/>
<circle cx="1347.8" cy="538.7" r="5.15"/>
<circle cx="1336.0" cy="565.5" r="5.15"/>
<line x1="881.80" y1="620.94" x2="890.75" y2="620.94" stroke-width="5.4" stroke-linecap="butt"/>
<line x1="881.80" y1="594.58" x2="890.75" y2="594.58" stroke-width="5.4" stroke-linecap="butt"/>
<line x1="881.80" y1="568.22" x2="890.75" y2="568.22" stroke-width="5.4" stroke-linecap="butt"/>
<line x1="881.80" y1="541.86" x2="890.75" y2="541.86" stroke-width="5.4" stroke-linecap="butt"/>
<line x1="881.80" y1="515.50" x2="890.75" y2="515.50" stroke-width="5.4" stroke-linecap="butt"/>
<line x1="881.80" y1="489.14" x2="890.75" y2="489.14" stroke-width="5.4" stroke-linecap="butt"/>
<line x1="881.80" y1="462.78" x2="890.75" y2="462.78" stroke-width="5.4" stroke-linecap="butt"/>
<line x1="881.80" y1="436.42" x2="890.75" y2="436.42" stroke-width="5.4" stroke-linecap="butt"/>
<line x1="881.80" y1="410.06" x2="890.75" y2="410.06" stroke-width="5.4" stroke-linecap="butt"/>
<line x1="881.80" y1="357.34" x2="890.75" y2="357.34" stroke-width="5.4" stroke-linecap="butt"/>
<line x1="881.80" y1="330.98" x2="890.75" y2="330.98" stroke-width="5.4" stroke-linecap="butt"/>
<line x1="881.80" y1="304.62" x2="890.75" y2="304.62" stroke-width="5.4" stroke-linecap="butt"/>
<line x1="881.80" y1="278.26" x2="890.75" y2="278.26" stroke-width="5.4" stroke-linecap="butt"/>
<line x1="881.80" y1="251.90" x2="890.75" y2="251.90" stroke-width="5.4" stroke-linecap="butt"/>
<line x1="881.80" y1="225.54" x2="890.75" y2="225.54" stroke-width="5.4" stroke-linecap="butt"/>
<line x1="881.80" y1="199.18" x2="890.75" y2="199.18" stroke-width="5.4" stroke-linecap="butt"/>
<line x1="881.80" y1="172.82" x2="890.75" y2="172.82" stroke-width="5.4" stroke-linecap="butt"/>
<line x1="881.80" y1="146.46" x2="890.75" y2="146.46" stroke-width="5.4" stroke-linecap="butt"/>
<line x1="128.00" y1="933.80" x2="128.00" y2="1465.30" stroke-width="5.4" stroke-linecap="butt"/>
<line x1="125.30" y1="1462.60" x2="657.60" y2="1462.60" stroke-width="5.4" stroke-linecap="butt"/>
<line x1="112.00" y1="936.20" x2="128.00" y2="936.20" stroke-width="5.4" stroke-linecap="butt"/>
<text x="106.30" y="948.70" font-size="36.5" text-anchor="end" font-weight="normal" >20</text>
<line x1="112.00" y1="1067.80" x2="128.00" y2="1067.80" stroke-width="5.4" stroke-linecap="butt"/>
<text x="106.30" y="1080.30" font-size="36.5" text-anchor="end" font-weight="normal" >15</text>
<line x1="112.00" y1="1199.40" x2="128.00" y2="1199.40" stroke-width="5.4" stroke-linecap="butt"/>
<text x="106.30" y="1211.90" font-size="36.5" text-anchor="end" font-weight="normal" >10</text>
<line x1="112.00" y1="1331.00" x2="128.00" y2="1331.00" stroke-width="5.4" stroke-linecap="butt"/>
<text x="106.30" y="1343.50" font-size="36.5" text-anchor="end" font-weight="normal" >5</text>
<line x1="112.00" y1="1462.60" x2="128.00" y2="1462.60" stroke-width="5.4" stroke-linecap="butt"/>
<text x="106.30" y="1475.10" font-size="36.5" text-anchor="end" font-weight="normal" >0</text>
<line x1="208.60" y1="1462.60" x2="208.60" y2="1485.00" stroke-width="5.4" stroke-linecap="butt"/>
<text x="208.60" y="1522.80" font-size="36.5" text-anchor="middle" font-weight="normal" >AD</text>
<line x1="330.30" y1="1462.60" x2="330.30" y2="1485.00" stroke-width="5.4" stroke-linecap="butt"/>
<text x="330.30" y="1522.80" font-size="36.5" text-anchor="middle" font-weight="normal" >LAA</text>
<line x1="451.50" y1="1462.60" x2="451.50" y2="1485.00" stroke-width="5.4" stroke-linecap="butt"/>
<text x="451.50" y="1522.80" font-size="36.5" text-anchor="middle" font-weight="normal" >CE</text>
<line x1="573.20" y1="1462.60" x2="573.20" y2="1485.00" stroke-width="5.4" stroke-linecap="butt"/>
<text x="573.20" y="1522.80" font-size="36.5" text-anchor="middle" font-weight="normal" >SUE</text>
<text x="257.80" y="875.90" font-size="36.37" text-anchor="start" font-weight="normal" >White Blood Cell</text>
<path fill="none" stroke="#000" stroke-width="7.7" d="M111.35,838.29 A18.7,23.45 0 1 0 111.97,856.22"/>
<text transform="translate(48.0,1285.5) rotate(-90)" font-size="36.4">Percent %</text>
<line x1="208.40" y1="1320.60" x2="208.40" y2="1392.00" stroke-width="2.7" stroke-linecap="round"/>
<line x1="189.40" y1="1320.60" x2="227.40" y2="1320.60" stroke-width="2.7" stroke-linecap="round"/>
<line x1="189.40" y1="1392.00" x2="227.40" y2="1392.00" stroke-width="2.7" stroke-linecap="round"/>
<line x1="168.70" y1="1369.60" x2="248.10" y2="1369.60" stroke-width="2.7" stroke-linecap="round"/>
<line x1="330.40" y1="1303.20" x2="330.40" y2="1391.70" stroke-width="2.7" stroke-linecap="round"/>
<line x1="311.40" y1="1303.20" x2="349.40" y2="1303.20" stroke-width="2.7" stroke-linecap="round"/>
<line x1="311.40" y1="1391.70" x2="349.40" y2="1391.70" stroke-width="2.7" stroke-linecap="round"/>
<line x1="291.00" y1="1354.40" x2="369.80" y2="1354.40" stroke-width="2.7" stroke-linecap="round"/>
<line x1="452.30" y1="1337.60" x2="452.30" y2="1389.60" stroke-width="2.7" stroke-linecap="round"/>
<line x1="433.80" y1="1337.60" x2="470.80" y2="1337.60" stroke-width="2.7" stroke-linecap="round"/>
<line x1="433.80" y1="1389.60" x2="470.80" y2="1389.60" stroke-width="2.7" stroke-linecap="round"/>
<line x1="412.70" y1="1360.00" x2="491.90" y2="1360.00" stroke-width="2.7" stroke-linecap="round"/>
<line x1="573.30" y1="1336.60" x2="573.30" y2="1394.60" stroke-width="2.7" stroke-linecap="round"/>
<line x1="554.30" y1="1336.60" x2="592.30" y2="1336.60" stroke-width="2.7" stroke-linecap="round"/>
<line x1="554.30" y1="1394.60" x2="592.30" y2="1394.60" stroke-width="2.7" stroke-linecap="round"/>
<line x1="533.90" y1="1362.30" x2="612.70" y2="1362.30" stroke-width="2.7" stroke-linecap="round"/>
<circle cx="208.1" cy="1259.5" r="5.15"/>
<circle cx="208.1" cy="1286.0" r="5.15"/>
<circle cx="196.9" cy="1313.5" r="5.15"/>
<circle cx="220.1" cy="1313.7" r="5.15"/>
<circle cx="208.1" cy="1339.9" r="5.15"/>
<circle cx="220.1" cy="1351.6" r="5.15"/>
<circle cx="196.9" cy="1355.5" r="5.15"/>
<circle cx="173.5" cy="1366.0" r="5.15"/>
<circle cx="196.9" cy="1373.4" r="5.15"/>
<circle cx="220.1" cy="1376.9" r="5.15"/>
<circle cx="243.9" cy="1375.4" r="5.15"/>
<circle cx="173.5" cy="1380.9" r="5.15"/>
<circle cx="208.1" cy="1395.8" r="5.15"/>
<circle cx="196.9" cy="1407.1" r="5.15"/>
<circle cx="220.1" cy="1409.8" r="5.15"/>
<circle cx="208.1" cy="1434.4" r="5.15"/>
<circle cx="330.3" cy="1019.8" r="5.15"/>
<circle cx="330.3" cy="1147.7" r="5.15"/>
<circle cx="330.3" cy="1206.9" r="5.15"/>
<circle cx="330.3" cy="1233.5" r="5.15"/>
<circle cx="321.4" cy="1258.6" r="5.15"/>
<circle cx="330.3" cy="1265.0" r="5.15"/>
<circle cx="312.5" cy="1287.8" r="5.15"/>
<circle cx="330.3" cy="1293.7" r="5.15"/>
<circle cx="303.9" cy="1296.9" r="5.15"/>
<circle cx="295.0" cy="1300.0" r="5.15"/>
<circle cx="312.5" cy="1303.2" r="5.15"/>
<circle cx="321.4" cy="1299.6" r="5.15"/>
<circle cx="339.1" cy="1300.9" r="5.15"/>
<circle cx="348.0" cy="1303.7" r="5.15"/>
<circle cx="356.7" cy="1301.9" r="5.15"/>
<circle cx="365.5" cy="1298.9" r="5.15"/>
<circle cx="330.3" cy="1306.0" r="5.15"/>
<circle cx="339.1" cy="1312.8" r="5.15"/>
<circle cx="312.5" cy="1319.1" r="5.15"/>
<circle cx="356.7" cy="1316.4" r="5.15"/>
<circle cx="348.0" cy="1321.4" r="5.15"/>
<circle cx="321.4" cy="1326.9" r="5.15"/>
<circle cx="330.3" cy="1325.5" r="5.15"/>
<circle cx="339.1" cy="1326.9" r="5.15"/>
<circle cx="312.5" cy="1336.9" r="5.15"/>
<circle cx="330.3" cy="1339.6" r="5.15"/>
<circle cx="339.1" cy="1345.1" r="5.15"/>
<circle cx="303.9" cy="1353.3" r="5.15"/>
<circle cx="312.5" cy="1355.5" r="5.15"/>
<circle cx="321.4" cy="1353.7" r="5.15"/>
<circle cx="348.0" cy="1354.2" r="5.15"/>
<circle cx="339.1" cy="1360.8" r="5.15"/>
<circle cx="348.0" cy="1365.5" r="5.15"/>
<circle cx="356.7" cy="1363.7" r="5.15"/>
<circle cx="312.5" cy="1369.6" r="5.15"/>
<circle cx="321.4" cy="1367.4" r="5.15"/>
<circle cx="330.3" cy="1366.6" r="5.15"/>
<circle cx="339.1" cy="1373.3" r="5.15"/>
<circle cx="303.9" cy="1381.8" r="5.15"/>
<circle cx="312.5" cy="1380.7" r="5.15"/>
<circle cx="321.4" cy="1380.0" r="5.15"/>
<circle cx="330.3" cy="1379.1" r="5.15"/>
<circle cx="339.1" cy="1386.4" r="5.15"/>
<circle cx="348.0" cy="1383.5" r="5.15"/>
<circle cx="312.5" cy="1391.8" r="5.15"/>
<circle cx="330.3" cy="1395.9" r="5.15"/>
<circle cx="348.0" cy="1395.9" r="5.15"/>
<circle cx="321.4" cy="1400.0" r="5.15"/>
<circle cx="312.5" cy="1405.9" r="5.15"/>
<circle cx="348.0" cy="1406.9" r="5.15"/>
<circle cx="321.4" cy="1413.2" r="5.15"/>
<circle cx="330.3" cy="1416.4" r="5.15"/>
<circle cx="312.5" cy="1417.3" r="5.15"/>
<circle cx="348.0" cy="1417.8" r="5.15"/>
<circle cx="339.1" cy="1421.0" r="5.15"/>
<circle cx="321.4" cy="1424.6" r="5.15"/>
<circle cx="339.1" cy="1431.9" r="5.15"/>
<circle cx="330.3" cy="1436.4" r="5.15"/>
<circle cx="330.3" cy="1459.2" r="5.15"/>
<circle cx="451.9" cy="1207.7" r="5.15"/>
<circle cx="451.9" cy="1210.9" r="5.15"/>
<circle cx="451.9" cy="1237.5" r="5.15"/>
<circle cx="451.9" cy="1253.7" r="5.15"/>
<circle cx="451.9" cy="1266.2" r="5.15"/>
<circle cx="448.7" cy="1275.5" r="5.15"/>
<circle cx="454.6" cy="1277.8" r="5.15"/>
<circle cx="454.6" cy="1284.6" r="5.15"/>
<circle cx="449.1" cy="1288.3" r="5.15"/>
<circle cx="443.2" cy="1296.0" r="5.15"/>
<circle cx="449.1" cy="1296.4" r="5.15"/>
<circle cx="454.1" cy="1298.7" r="5.15"/>
<circle cx="460.0" cy="1300.5" r="5.15"/>
<circle cx="443.2" cy="1309.2" r="5.15"/>
<circle cx="449.1" cy="1306.4" r="5.15"/>
<circle cx="460.0" cy="1309.2" r="5.15"/>
<circle cx="454.1" cy="1312.8" r="5.15"/>
<circle cx="443.2" cy="1319.0" r="5.15"/>
<circle cx="449.1" cy="1318.0" r="5.15"/>
<circle cx="454.1" cy="1317.0" r="5.15"/>
<circle cx="460.0" cy="1317.0" r="5.15"/>
<circle cx="444.1" cy="1451.0" r="5.15"/>
<circle cx="449.6" cy="1443.7" r="5.15"/>
<circle cx="454.6" cy="1447.3" r="5.15"/>
<circle cx="460.0" cy="1443.7" r="5.15"/>
<circle cx="449.1" cy="1436.9" r="5.15"/>
<circle cx="454.6" cy="1431.0" r="5.15"/>
<circle cx="435.5" cy="1425.5" r="5.15"/>
<circle cx="440.5" cy="1424.1" r="5.15"/>
<circle cx="446.0" cy="1425.5" r="5.15"/>
<circle cx="452.8" cy="1421.0" r="5.15"/>
<circle cx="459.1" cy="1423.7" r="5.15"/>
<circle cx="463.7" cy="1423.7" r="5.15"/>
<circle cx="467.3" cy="1423.7" r="5.15"/>
<circle cx="449.1" cy="1416.4" r="5.15"/>
<circle cx="453.7" cy="1411.8" r="5.15"/>
<circle cx="459.1" cy="1410.0" r="5.15"/>
<circle cx="436.4" cy="1409.1" r="5.15"/>
<circle cx="441.0" cy="1405.5" r="5.15"/>
<circle cx="449.1" cy="1404.6" r="5.15"/>
<circle cx="454.6" cy="1401.8" r="5.15"/>
<circle cx="461.9" cy="1406.4" r="5.15"/>
<circle cx="467.3" cy="1403.7" r="5.15"/>
<circle cx="474.6" cy="1397.7" r="5.15"/>
<circle cx="470.1" cy="1396.4" r="5.15"/>
<circle cx="464.6" cy="1394.6" r="5.15"/>
<circle cx="444.6" cy="1396.4" r="5.15"/>
<circle cx="450.0" cy="1397.3" r="5.15"/>
<circle cx="429.1" cy="1391.8" r="5.15"/>
<circle cx="432.8" cy="1390.0" r="5.15"/>
<circle cx="419.1" cy="1386.4" r="5.15"/>
<circle cx="479.2" cy="1386.4" r="5.15"/>
<circle cx="485.5" cy="1383.6" r="5.15"/>
<circle cx="440.0" cy="1325.0" r="5.15"/>
<circle cx="452.5" cy="1325.0" r="5.15"/>
<circle cx="465.0" cy="1325.0" r="5.15"/>
<circle cx="440.0" cy="1330.0" r="5.15"/>
<circle cx="452.0" cy="1330.0" r="5.15"/>
<circle cx="464.0" cy="1330.0" r="5.15"/>
<circle cx="425.0" cy="1336.0" r="5.15"/>
<circle cx="436.0" cy="1336.0" r="5.15"/>
<circle cx="447.0" cy="1336.0" r="5.15"/>
<circle cx="458.0" cy="1336.0" r="5.15"/>
<circle cx="469.0" cy="1336.0" r="5.15"/>
<circle cx="480.0" cy="1336.0" r="5.15"/>
<circle cx="429.7" cy="1341.0" r="5.15"/>
<circle cx="441.1" cy="1341.0" r="5.15"/>
<circle cx="452.5" cy="1341.0" r="5.15"/>
<circle cx="463.9" cy="1341.0" r="5.15"/>
<circle cx="475.3" cy="1341.0" r="5.15"/>
<circle cx="423.0" cy="1347.0" r="5.15"/>
<circle cx="432.8" cy="1347.0" r="5.15"/>
<circle cx="442.7" cy="1347.0" r="5.15"/>
<circle cx="452.5" cy="1347.0" r="5.15"/>
<circle cx="462.3" cy="1347.0" r="5.15"/>
<circle cx="472.2" cy="1347.0" r="5.15"/>
<circle cx="482.0" cy="1347.0" r="5.15"/>
<circle cx="424.5" cy="1352.0" r="5.15"/>
<circle cx="435.5" cy="1352.0" r="5.15"/>
<circle cx="446.5" cy="1352.0" r="5.15"/>
<circle cx="457.5" cy="1352.0" r="5.15"/>
<circle cx="468.5" cy="1352.0" r="5.15"/>
<circle cx="479.5" cy="1352.0" r="5.15"/>
<circle cx="417.0" cy="1357.0" r="5.15"/>
<circle cx="427.0" cy="1357.0" r="5.15"/>
<circle cx="437.0" cy="1357.0" r="5.15"/>
<circle cx="447.0" cy="1357.0" r="5.15"/>
<circle cx="457.0" cy="1357.0" r="5.15"/>
<circle cx="467.0" cy="1357.0" r="5.15"/>
<circle cx="477.0" cy="1357.0" r="5.15"/>
<circle cx="487.0" cy="1357.0" r="5.15"/>
<circle cx="426.3" cy="1362.0" r="5.15"/>
<circle cx="437.0" cy="1362.0" r="5.15"/>
<circle cx="447.7" cy="1362.0" r="5.15"/>
<circle cx="458.3" cy="1362.0" r="5.15"/>
<circle cx="469.0" cy="1362.0" r="5.15"/>
<circle cx="479.7" cy="1362.0" r="5.15"/>
<circle cx="430.0" cy="1368.0" r="5.15"/>
<circle cx="441.2" cy="1368.0" r="5.15"/>
<circle cx="452.5" cy="1368.0" r="5.15"/>
<circle cx="463.8" cy="1368.0" r="5.15"/>
<circle cx="475.0" cy="1368.0" r="5.15"/>
<circle cx="429.6" cy="1373.0" r="5.15"/>
<circle cx="440.8" cy="1373.0" r="5.15"/>
<circle cx="452.0" cy="1373.0" r="5.15"/>
<circle cx="463.2" cy="1373.0" r="5.15"/>
<circle cx="474.4" cy="1373.0" r="5.15"/>
<circle cx="419.0" cy="1379.0" r="5.15"/>
<circle cx="429.8" cy="1379.0" r="5.15"/>
<circle cx="440.7" cy="1379.0" r="5.15"/>
<circle cx="451.5" cy="1379.0" r="5.15"/>
<circle cx="462.3" cy="1379.0" r="5.15"/>
<circle cx="473.2" cy="1379.0" r="5.15"/>
<circle cx="484.0" cy="1379.0" r="5.15"/>
<circle cx="425.2" cy="1384.0" r="5.15"/>
<circle cx="435.8" cy="1384.0" r="5.15"/>
<circle cx="446.2" cy="1384.0" r="5.15"/>
<circle cx="456.8" cy="1384.0" r="5.15"/>
<circle cx="467.2" cy="1384.0" r="5.15"/>
<circle cx="477.8" cy="1384.0" r="5.15"/>
<circle cx="573.5" cy="1222.6" r="5.15"/>
<circle cx="566.4" cy="1291.4" r="5.15"/>
<circle cx="580.5" cy="1300.5" r="5.15"/>
<circle cx="566.4" cy="1308.3" r="5.15"/>
<circle cx="580.5" cy="1316.4" r="5.15"/>
<circle cx="566.4" cy="1322.6" r="5.15"/>
<circle cx="538.2" cy="1337.3" r="5.15"/>
<circle cx="552.3" cy="1342.7" r="5.15"/>
<circle cx="566.4" cy="1347.1" r="5.15"/>
<circle cx="580.5" cy="1339.6" r="5.15"/>
<circle cx="594.6" cy="1339.1" r="5.15"/>
<circle cx="608.7" cy="1337.3" r="5.15"/>
<circle cx="566.4" cy="1361.8" r="5.15"/>
<circle cx="580.5" cy="1360.5" r="5.15"/>
<circle cx="594.6" cy="1362.3" r="5.15"/>
<circle cx="552.3" cy="1369.6" r="5.15"/>
<circle cx="580.5" cy="1378.7" r="5.15"/>
<circle cx="594.6" cy="1376.4" r="5.15"/>
<circle cx="552.3" cy="1385.5" r="5.15"/>
<circle cx="566.4" cy="1385.5" r="5.15"/>
<circle cx="580.5" cy="1392.8" r="5.15"/>
<circle cx="594.6" cy="1388.2" r="5.15"/>
<circle cx="566.4" cy="1396.9" r="5.15"/>
<circle cx="566.4" cy="1412.3" r="5.15"/>
<circle cx="580.5" cy="1410.1" r="5.15"/>
<circle cx="580.5" cy="1424.2" r="5.15"/>
<circle cx="566.4" cy="1431.9" r="5.15"/>
<circle cx="566.4" cy="1453.2" r="5.15"/>
<circle cx="580.5" cy="1452.8" r="5.15"/>
<line x1="890.50" y1="1119.00" x2="890.50" y2="1465.90" stroke-width="5.4" stroke-linecap="butt"/>
<line x1="890.50" y1="934.10" x2="890.50" y2="1086.50" stroke-width="5.4" stroke-linecap="butt"/>
<line x1="877.60" y1="1098.30" x2="903.50" y2="1072.70" stroke-width="5.4" stroke-linecap="butt"/>
<line x1="877.40" y1="1132.40" x2="903.50" y2="1107.00" stroke-width="5.4" stroke-linecap="butt"/>
<line x1="887.80" y1="1463.20" x2="1419.80" y2="1463.20" stroke-width="5.4" stroke-linecap="butt"/>
<line x1="874.30" y1="936.80" x2="890.50" y2="936.80" stroke-width="5.4" stroke-linecap="butt"/>
<line x1="874.30" y1="1293.30" x2="890.50" y2="1293.30" stroke-width="5.4" stroke-linecap="butt"/>
<line x1="874.30" y1="1463.20" x2="890.50" y2="1463.20" stroke-width="5.4" stroke-linecap="butt"/>
<text x="869.00" y="949.30" font-size="36.5" text-anchor="end" font-weight="normal" >300</text>
<text x="869.00" y="1095.30" font-size="36.5" text-anchor="end" font-weight="normal" >250</text>
<text x="869.00" y="1134.60" font-size="36.5" text-anchor="end" font-weight="normal" >100</text>
<text x="869.00" y="1305.80" font-size="36.5" text-anchor="end" font-weight="normal" >50</text>
<text x="869.00" y="1475.70" font-size="36.5" text-anchor="end" font-weight="normal" >0</text>
<line x1="971.30" y1="1463.20" x2="971.30" y2="1485.30" stroke-width="5.4" stroke-linecap="butt"/>
<text x="971.30" y="1522.60" font-size="36.5" text-anchor="middle" font-weight="normal" >AD</text>
<line x1="1092.80" y1="1463.20" x2="1092.80" y2="1485.30" stroke-width="5.4" stroke-linecap="butt"/>
<text x="1092.80" y="1522.60" font-size="36.5" text-anchor="middle" font-weight="normal" >LAA</text>
<line x1="1214.20" y1="1463.20" x2="1214.20" y2="1485.30" stroke-width="5.4" stroke-linecap="butt"/>
<text x="1214.20" y="1522.60" font-size="36.5" text-anchor="middle" font-weight="normal" >CE</text>
<line x1="1335.90" y1="1463.20" x2="1335.90" y2="1485.30" stroke-width="5.4" stroke-linecap="butt"/>
<text x="1335.90" y="1522.60" font-size="36.5" text-anchor="middle" font-weight="normal" >SUE</text>
<text x="985.80" y="876.40" font-size="36.34" text-anchor="start" font-weight="normal" >Total Thrombus Area</text>
<path fill-rule="evenodd" d="M838.1,821.7 H857.4 C870.1,821.7 880.4,833.6 880.4,848.2 C880.4,862.8 870.1,874.6 857.4,874.6 H838.1 Z M846.4,829.3 H858.4 C866,829.3 872.1,837.8 872.1,848.2 C872.1,858.6 866,867 858.4,867 H846.4 Z"/>
<text transform="translate(795.3,1239.7) rotate(-90)" font-size="36.4">mm<tspan dx="2" dy="-16.2" font-size="25">2</tspan></text>
<line x1="971.10" y1="1319.60" x2="971.10" y2="1416.20" stroke-width="2.7" stroke-linecap="round"/>
<line x1="951.90" y1="1319.60" x2="990.30" y2="1319.60" stroke-width="2.7" stroke-linecap="round"/>
<line x1="951.90" y1="1416.20" x2="990.30" y2="1416.20" stroke-width="2.7" stroke-linecap="round"/>
<line x1="931.90" y1="1356.90" x2="1010.30" y2="1356.90" stroke-width="2.7" stroke-linecap="round"/>
<line x1="1093.00" y1="1384.00" x2="1093.00" y2="1442.80" stroke-width="2.7" stroke-linecap="round"/>
<line x1="1073.80" y1="1384.00" x2="1112.20" y2="1384.00" stroke-width="2.7" stroke-linecap="round"/>
<line x1="1073.80" y1="1442.80" x2="1112.20" y2="1442.80" stroke-width="2.7" stroke-linecap="round"/>
<line x1="1053.80" y1="1427.50" x2="1132.20" y2="1427.50" stroke-width="2.7" stroke-linecap="round"/>
<line x1="1214.60" y1="1336.00" x2="1214.60" y2="1427.30" stroke-width="2.7" stroke-linecap="round"/>
<line x1="1195.20" y1="1336.00" x2="1234.00" y2="1336.00" stroke-width="2.7" stroke-linecap="round"/>
<line x1="1195.20" y1="1427.30" x2="1234.00" y2="1427.30" stroke-width="2.7" stroke-linecap="round"/>
<line x1="1175.20" y1="1403.20" x2="1254.00" y2="1403.20" stroke-width="2.7" stroke-linecap="round"/>
<line x1="1335.90" y1="1296.40" x2="1335.90" y2="1418.40" stroke-width="2.7" stroke-linecap="round"/>
<line x1="1316.70" y1="1296.40" x2="1355.10" y2="1296.40" stroke-width="2.7" stroke-linecap="round"/>
<line x1="1316.70" y1="1418.40" x2="1355.10" y2="1418.40" stroke-width="2.7" stroke-linecap="round"/>
<line x1="1296.70" y1="1402.80" x2="1375.10" y2="1402.80" stroke-width="2.7" stroke-linecap="round"/>
<circle cx="971.1" cy="1273.8" r="5.15"/>
<circle cx="981.9" cy="1318.2" r="5.15"/>
<circle cx="960.5" cy="1321.9" r="5.15"/>
<circle cx="981.9" cy="1330.5" r="5.15"/>
<circle cx="960.5" cy="1339.1" r="5.15"/>
<circle cx="960.5" cy="1353.3" r="5.15"/>
<circle cx="981.9" cy="1360.5" r="5.15"/>
<circle cx="960.5" cy="1391.8" r="5.15"/>
<circle cx="981.9" cy="1400.2" r="5.15"/>
<circle cx="960.5" cy="1407.3" r="5.15"/>
<circle cx="971.1" cy="1419.6" r="5.15"/>
<circle cx="960.5" cy="1433.2" r="5.15"/>
<circle cx="981.9" cy="1434.6" r="5.15"/>
<circle cx="971.1" cy="1453.9" r="5.15"/>
<circle cx="1092.7" cy="1166.8" r="5.15"/>
<circle cx="1092.5" cy="1246.4" r="5.15"/>
<circle cx="1098.9" cy="1250.8" r="5.15"/>
<circle cx="1092.5" cy="1260.1" r="5.15"/>
<circle cx="1098.4" cy="1292.3" r="5.15"/>
<circle cx="1092.7" cy="1296.4" r="5.15"/>
<circle cx="1092.7" cy="1318.2" r="5.15"/>
<circle cx="1092.7" cy="1342.3" r="5.15"/>
<circle cx="1086.6" cy="1353.2" r="5.15"/>
<circle cx="1098.9" cy="1362.3" r="5.15"/>
<circle cx="1092.7" cy="1366.9" r="5.15"/>
<circle cx="1086.6" cy="1375.8" r="5.15"/>
<circle cx="1092.7" cy="1384.1" r="5.15"/>
<circle cx="1080.7" cy="1391.8" r="5.15"/>
<circle cx="1068.8" cy="1401.4" r="5.15"/>
<circle cx="1092.7" cy="1402.3" r="5.15"/>
<circle cx="1110.2" cy="1404.6" r="5.15"/>
<circle cx="1116.6" cy="1410.0" r="5.15"/>
<circle cx="1074.8" cy="1409.1" r="5.15"/>
<circle cx="1080.7" cy="1407.7" r="5.15"/>
<circle cx="1103.9" cy="1411.4" r="5.15"/>
<circle cx="1098.9" cy="1415.0" r="5.15"/>
<circle cx="1093.0" cy="1417.3" r="5.15"/>
<circle cx="1110.2" cy="1416.8" r="5.15"/>
<circle cx="1080.7" cy="1421.4" r="5.15"/>
<circle cx="1128.0" cy="1421.8" r="5.15"/>
<circle cx="1122.1" cy="1426.4" r="5.15"/>
<circle cx="1074.8" cy="1427.3" r="5.15"/>
<circle cx="1098.9" cy="1427.3" r="5.15"/>
<circle cx="1057.0" cy="1435.0" r="5.15"/>
<circle cx="1063.4" cy="1436.9" r="5.15"/>
<circle cx="1068.8" cy="1435.5" r="5.15"/>
<circle cx="1074.8" cy="1438.2" r="5.15"/>
<circle cx="1080.7" cy="1435.5" r="5.15"/>
<circle cx="1086.6" cy="1436.4" r="5.15"/>
<circle cx="1093.0" cy="1436.4" r="5.15"/>
<circle cx="1098.9" cy="1440.0" r="5.15"/>
<circle cx="1104.3" cy="1436.4" r="5.15"/>
<circle cx="1110.2" cy="1434.6" r="5.15"/>
<circle cx="1116.2" cy="1435.5" r="5.15"/>
<circle cx="1128.0" cy="1437.8" r="5.15"/>
<circle cx="1122.1" cy="1441.9" r="5.15"/>
<circle cx="1080.7" cy="1445.5" r="5.15"/>
<circle cx="1086.6" cy="1443.7" r="5.15"/>
<circle cx="1093.0" cy="1445.5" r="5.15"/>
<circle cx="1098.9" cy="1447.3" r="5.15"/>
<circle cx="1104.8" cy="1448.2" r="5.15"/>
<circle cx="1110.2" cy="1447.8" r="5.15"/>
<circle cx="1063.4" cy="1451.9" r="5.15"/>
<circle cx="1069.3" cy="1450.5" r="5.15"/>
<circle cx="1075.2" cy="1451.9" r="5.15"/>
<circle cx="1080.7" cy="1457.3" r="5.15"/>
<circle cx="1090.7" cy="1456.4" r="5.15"/>
<circle cx="1098.9" cy="1454.1" r="5.15"/>
<circle cx="1122.1" cy="1452.8" r="5.15"/>
<circle cx="1128.0" cy="1450.5" r="5.15"/>
<circle cx="1104.3" cy="1464.2" r="5.15"/>
<circle cx="1214.1" cy="978.6" r="5.15"/>
<circle cx="1214.1" cy="998.2" r="5.15"/>
<circle cx="1214.1" cy="1130.5" r="5.15"/>
<circle cx="1214.1" cy="1133.6" r="5.15"/>
<circle cx="1214.1" cy="1165.0" r="5.15"/>
<circle cx="1214.1" cy="1188.0" r="5.15"/>
<circle cx="1214.1" cy="1200.1" r="5.15"/>
<circle cx="1211.9" cy="1228.3" r="5.15"/>
<circle cx="1217.3" cy="1233.3" r="5.15"/>
<circle cx="1217.3" cy="1241.9" r="5.15"/>
<circle cx="1211.9" cy="1246.5" r="5.15"/>
<circle cx="1214.1" cy="1269.6" r="5.15"/>
<circle cx="1219.6" cy="1273.2" r="5.15"/>
<circle cx="1209.1" cy="1277.3" r="5.15"/>
<circle cx="1214.1" cy="1288.7" r="5.15"/>
<circle cx="1211.9" cy="1309.6" r="5.15"/>
<circle cx="1217.8" cy="1309.1" r="5.15"/>
<circle cx="1209.1" cy="1316.9" r="5.15"/>
<circle cx="1219.6" cy="1315.5" r="5.15"/>
<circle cx="1214.1" cy="1318.2" r="5.15"/>
<circle cx="1214.1" cy="1322.3" r="5.15"/>
<circle cx="1199.1" cy="1332.3" r="5.15"/>
<circle cx="1209.1" cy="1336.4" r="5.15"/>
<circle cx="1214.6" cy="1336.0" r="5.15"/>
<circle cx="1224.1" cy="1334.6" r="5.15"/>
<circle cx="1229.6" cy="1335.5" r="5.15"/>
<circle cx="1203.2" cy="1342.8" r="5.15"/>
<circle cx="1212.8" cy="1345.5" r="5.15"/>
<circle cx="1219.1" cy="1342.8" r="5.15"/>
<circle cx="1211.9" cy="1361.9" r="5.15"/>
<circle cx="1217.3" cy="1361.9" r="5.15"/>
<circle cx="1213.7" cy="1364.0" r="5.15"/>
<circle cx="1222.8" cy="1374.6" r="5.15"/>
<circle cx="1198.2" cy="1385.9" r="5.15"/>
<circle cx="1205.5" cy="1380.5" r="5.15"/>
<circle cx="1210.0" cy="1381.8" r="5.15"/>
<circle cx="1229.6" cy="1385.0" r="5.15"/>
<circle cx="1219.1" cy="1380.0" r="5.15"/>
<circle cx="1201.0" cy="1396.0" r="5.15"/>
<circle cx="1209.1" cy="1394.6" r="5.15"/>
<circle cx="1219.1" cy="1393.7" r="5.15"/>
<circle cx="1224.6" cy="1394.6" r="5.15"/>
<circle cx="1237.3" cy="1397.3" r="5.15"/>
<circle cx="1242.8" cy="1397.3" r="5.15"/>
<circle cx="1247.3" cy="1394.6" r="5.15"/>
<circle cx="1181.4" cy="1399.6" r="5.15"/>
<circle cx="1188.2" cy="1402.3" r="5.15"/>
<circle cx="1193.2" cy="1401.9" r="5.15"/>
<circle cx="1251.0" cy="1421.9" r="5.15"/>
<circle cx="1178.7" cy="1426.4" r="5.15"/>
<circle cx="1182.8" cy="1425.5" r="5.15"/>
<circle cx="1191.4" cy="1433.2" r="5.15"/>
<circle cx="1242.3" cy="1435.5" r="5.15"/>
<circle cx="1201.9" cy="1441.0" r="5.15"/>
<circle cx="1207.3" cy="1440.0" r="5.15"/>
<circle cx="1227.8" cy="1442.8" r="5.15"/>
<circle cx="1181.4" cy="1453.3" r="5.15"/>
<circle cx="1187.3" cy="1447.8" r="5.15"/>
<circle cx="1191.8" cy="1449.2" r="5.15"/>
<circle cx="1197.0" cy="1448.5" r="5.15"/>
<circle cx="1206.0" cy="1448.7" r="5.15"/>
<circle cx="1212.8" cy="1446.4" r="5.15"/>
<circle cx="1221.0" cy="1451.4" r="5.15"/>
<circle cx="1227.3" cy="1453.3" r="5.15"/>
<circle cx="1233.7" cy="1452.8" r="5.15"/>
<circle cx="1239.2" cy="1453.7" r="5.15"/>
<circle cx="1247.3" cy="1451.9" r="5.15"/>
<circle cx="1201.0" cy="1458.3" r="5.15"/>
<circle cx="1208.0" cy="1457.5" r="5.15"/>
<circle cx="1230.0" cy="1460.0" r="5.15"/>
<circle cx="1237.0" cy="1459.0" r="5.15"/>
<circle cx="1206.2" cy="1383.0" r="5.15"/>
<circle cx="1213.9" cy="1386.0" r="5.15"/>
<circle cx="1207.7" cy="1392.0" r="5.15"/>
<circle cx="1213.9" cy="1396.5" r="5.15"/>
<circle cx="1203.1" cy="1395.4" r="5.15"/>
<circle cx="1218.5" cy="1458.5" r="5.15"/>
<circle cx="1213.0" cy="1459.5" r="5.15"/>
<circle cx="1240.5" cy="1458.5" r="5.15"/>
<circle cx="1224.5" cy="1458.0" r="5.15"/>
<circle cx="1196.0" cy="1405.0" r="5.15"/>
<circle cx="1205.6" cy="1405.0" r="5.15"/>
<circle cx="1215.2" cy="1405.0" r="5.15"/>
<circle cx="1224.8" cy="1405.0" r="5.15"/>
<circle cx="1234.4" cy="1405.0" r="5.15"/>
<circle cx="1244.0" cy="1405.0" r="5.15"/>
<circle cx="1193.4" cy="1410.0" r="5.15"/>
<circle cx="1204.2" cy="1410.0" r="5.15"/>
<circle cx="1215.0" cy="1410.0" r="5.15"/>
<circle cx="1225.8" cy="1410.0" r="5.15"/>
<circle cx="1236.6" cy="1410.0" r="5.15"/>
<circle cx="1190.0" cy="1416.0" r="5.15"/>
<circle cx="1200.0" cy="1416.0" r="5.15"/>
<circle cx="1210.0" cy="1416.0" r="5.15"/>
<circle cx="1220.0" cy="1416.0" r="5.15"/>
<circle cx="1230.0" cy="1416.0" r="5.15"/>
<circle cx="1240.0" cy="1416.0" r="5.15"/>
<circle cx="1191.0" cy="1421.0" r="5.15"/>
<circle cx="1201.0" cy="1421.0" r="5.15"/>
<circle cx="1211.0" cy="1421.0" r="5.15"/>
<circle cx="1221.0" cy="1421.0" r="5.15"/>
<circle cx="1231.0" cy="1421.0" r="5.15"/>
<circle cx="1241.0" cy="1421.0" r="5.15"/>
<circle cx="1188.0" cy="1427.0" r="5.15"/>
<circle cx="1198.4" cy="1427.0" r="5.15"/>
<circle cx="1208.8" cy="1427.0" r="5.15"/>
<circle cx="1219.2" cy="1427.0" r="5.15"/>
<circle cx="1229.6" cy="1427.0" r="5.15"/>
<circle cx="1240.0" cy="1427.0" r="5.15"/>
<circle cx="1201.2" cy="1432.0" r="5.15"/>
<circle cx="1211.8" cy="1432.0" r="5.15"/>
<circle cx="1222.2" cy="1432.0" r="5.15"/>
<circle cx="1232.8" cy="1432.0" r="5.15"/>
<circle cx="1198.0" cy="1438.0" r="5.15"/>
<circle cx="1207.5" cy="1438.0" r="5.15"/>
<circle cx="1217.0" cy="1438.0" r="5.15"/>
<circle cx="1226.5" cy="1438.0" r="5.15"/>
<circle cx="1236.0" cy="1438.0" r="5.15"/>
<circle cx="1335.7" cy="1130.5" r="5.15"/>
<circle cx="1335.7" cy="1173.7" r="5.15"/>
<circle cx="1335.7" cy="1265.9" r="5.15"/>
<circle cx="1341.9" cy="1294.6" r="5.15"/>
<circle cx="1329.6" cy="1298.2" r="5.15"/>
<circle cx="1335.7" cy="1309.6" r="5.15"/>
<circle cx="1335.7" cy="1320.1" r="5.15"/>
<circle cx="1335.7" cy="1337.8" r="5.15"/>
<circle cx="1347.3" cy="1360.3" r="5.15"/>
<circle cx="1335.7" cy="1363.7" r="5.15"/>
<circle cx="1335.7" cy="1385.3" r="5.15"/>
<circle cx="1300.9" cy="1403.5" r="5.15"/>
<circle cx="1371.0" cy="1403.5" r="5.15"/>
<circle cx="1335.7" cy="1405.5" r="5.15"/>
<circle cx="1347.3" cy="1406.9" r="5.15"/>
<circle cx="1312.3" cy="1411.4" r="5.15"/>
<circle cx="1324.1" cy="1411.4" r="5.15"/>
<circle cx="1300.9" cy="1415.3" r="5.15"/>
<circle cx="1359.2" cy="1412.3" r="5.15"/>
<circle cx="1347.3" cy="1421.4" r="5.15"/>
<circle cx="1335.7" cy="1428.2" r="5.15"/>
<circle cx="1324.1" cy="1433.7" r="5.15"/>
<circle cx="1335.7" cy="1439.6" r="5.15"/>
<circle cx="1347.3" cy="1437.3" r="5.15"/>
<circle cx="1347.3" cy="1448.3" r="5.15"/>
<circle cx="1324.1" cy="1456.9" r="5.15"/>
</svg>
</body></html>
